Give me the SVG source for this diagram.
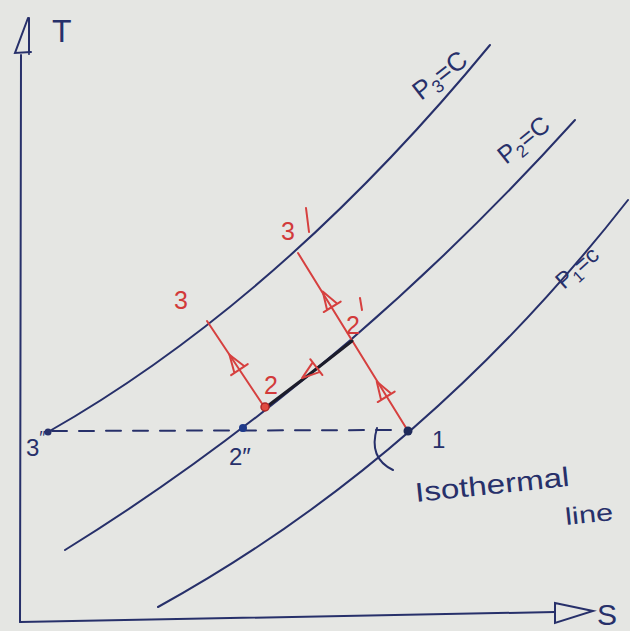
<svg xmlns="http://www.w3.org/2000/svg" width="630" height="631" viewBox="0 0 630 631">
<style>
.ink{fill:none;stroke:#27306a;stroke-width:2;stroke-linecap:round}
.red{fill:none;stroke:#d6403f;stroke-width:2;stroke-linecap:round;stroke-linejoin:round}
.bt{font-family:"Liberation Sans","DejaVu Sans",sans-serif;fill:#27306a}
.rt{font-family:"Liberation Sans","DejaVu Sans",sans-serif;fill:#d23a3a}
</style>
<defs>
<path id="tri" d="M0,-10 L-6,8 L6,8 Z M-10,8 L10,8"/>
</defs>
<rect width="630" height="631" fill="#e5e6e3"/>

<g id="axes">
<path class="ink" d="M20,622 L21,55"/>
<path class="ink" d="M28,18 L15,53 L31,52 M29,18 L29,54"/>
<text class="bt" x="52" y="42" font-size="32">T</text>
<path class="ink" d="M20,622 L555,612"/>
<path class="ink" d="M555,603 L555,623 L593,611 Z"/>
<text class="bt" x="597" y="625" font-size="30">S</text>
</g>

<g id="curves">
<path id="p3" class="ink" d="M48,432 Q280,300 490,45"/>
<path id="p2" class="ink" d="M65,550 Q340,380 575,120"/>
<path id="p1" class="ink" d="M158,607 Q425,460 628,200"/>
</g>

<g id="labels-pressure">
<text class="bt" font-size="26" transform="translate(421,101) rotate(-38)">P<tspan font-size="18" dy="5">3</tspan><tspan dy="-5">=C</tspan></text>
<text class="bt" font-size="25" transform="translate(506,165) rotate(-39)">P<tspan font-size="17" dy="5">2</tspan><tspan dy="-5">=C</tspan></text>
<text class="bt" font-size="23" transform="translate(564,290) rotate(-42)">P<tspan font-size="16" dy="5">1</tspan><tspan dy="-5">=c</tspan></text>
</g>

<g id="connectors">
<path class="ink" d="M52,431 L400,430" stroke-dasharray="15 12"/>
<path class="red" d="M207,321 L265,408"/>
<path class="red" d="M298,253 L408,431"/>
<path fill="none" stroke="#1c1c2a" stroke-width="3" stroke-linecap="round" d="M265,408 Q308,376 352,341"/>
<use href="#tri" class="red" transform="translate(235,363) rotate(-33.7)"/>
<use href="#tri" class="red" transform="translate(328,300) rotate(-31.7)"/>
<use href="#tri" class="red" transform="translate(382,390) rotate(-31.7)"/>
<use href="#tri" class="red" transform="translate(310,372) rotate(232.4)"/>
<path class="ink" d="M377,428 Q368,458 393,470"/>
</g>

<g id="node-3pp">
<circle cx="48" cy="432" r="3.5" fill="#27306a"/>
<text class="bt" x="26" y="456" font-size="24">3<tspan font-size="18" dy="-12">″</tspan></text>
</g>
<g id="node-2pp">
<circle cx="243" cy="428" r="4" fill="#1f3a8a"/>
<text class="bt" x="229" y="465" font-size="24">2″</text>
</g>
<g id="node-1">
<circle cx="408" cy="431" r="4.5" fill="#1f2a5a"/>
<text class="bt" x="432" y="448" font-size="24">1</text>
</g>
<g id="node-2">
<circle cx="265" cy="407" r="4" fill="#e04a40" stroke="#b02828" stroke-width="1.5"/>
<text class="rt" x="264" y="394" font-size="25">2</text>
</g>
<g id="node-3">
<text class="rt" x="174" y="309" font-size="25">3</text>
</g>
<g id="node-3p">
<text class="rt" x="281" y="240" font-size="25">3</text>
<path class="red" d="M306,208 L309,232"/>
</g>
<g id="node-2p">
<text class="rt" x="346" y="334" font-size="25">2</text>
<path class="red" d="M360,298 L362,310"/>
</g>

<g id="note">
<text class="bt" x="416" y="502" font-size="27" textLength="155" lengthAdjust="spacingAndGlyphs" transform="rotate(-6 416 502)">Isothermal</text>
<text class="bt" x="566" y="525" font-size="24" textLength="48" lengthAdjust="spacingAndGlyphs" transform="rotate(-6 566 525)">line</text>
</g>
</svg>
